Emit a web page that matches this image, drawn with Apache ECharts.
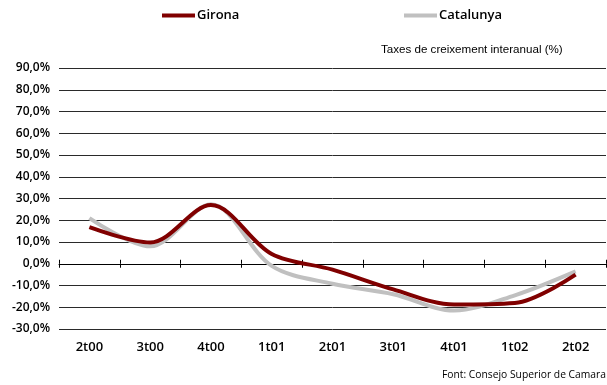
<!DOCTYPE html>
<html>
<head>
<meta charset="utf-8">
<script src="https://cdn.jsdelivr.net/npm/echarts@6/dist/echarts.min.js"></script>
<style>
  html, body { margin: 0; padding: 0; background: #fff; }
  #chart { width: 607px; height: 385px; }
</style>
</head>
<body>
<div id="chart"></div>
<script>
// Quarterly year-on-year growth rates (%)
const quarters = ['2t00', '3t00', '4t00', '1t01', '2t01', '3t01', '4t01', '1t02', '2t02'];
const girona = [16.8, 9.8, 27.0, 4.5, -2.7, -11.8, -18.7, -18.0, -5.0];
const catalunya = [21.0, 8.0, 27.3, -1.0, -9.2, -14.0, -21.5, -14.5, -3.5];

const yMin = -30, yMax = 90, yStep = 10;

const labelFont = { fontFamily: 'Open Sans', fontSize: 12, fontWeight: 600, color: '#000' };
const legendFont = { fontFamily: 'Open Sans', fontSize: 13, fontWeight: 600, color: '#000', padding: [0, 0, 0, -3] };

const chart = echarts.init(document.getElementById('chart'), null, { renderer: 'canvas' });

chart.setOption({
  animation: false,
  backgroundColor: '#fff',
  grid: { left: 59, right: 1, top: 68, bottom: 56, containLabel: false },
  legend: [
    {
      left: 162, top: 9, padding: 0,
      icon: 'rect', itemWidth: 33, itemHeight: 4,
      textStyle: legendFont, data: ['Girona']
    },
    {
      left: 404, top: 9, padding: 0,
      icon: 'rect', itemWidth: 33, itemHeight: 4,
      textStyle: legendFont, data: ['Catalunya']
    }
  ],
  xAxis: [
    {
      type: 'category', data: quarters, position: 'bottom', boundaryGap: true,
      axisLine: { show: false, onZero: false }, axisTick: { show: false },
      axisLabel: Object.assign({ margin: 12 }, labelFont, { fontSize: 13 })
    },
    {
      type: 'category', data: quarters, position: 'bottom', boundaryGap: true,
      axisLine: { show: true, onZero: true, onZeroAxisIndex: 0, lineStyle: { color: '#000', width: 1 } },
      axisTick: { show: true, length: 4, lineStyle: { color: '#000' } },
      axisLabel: { show: false }
    },
    {
      type: 'category', data: quarters, position: 'bottom', boundaryGap: true,
      axisLine: { show: false, onZero: true, onZeroAxisIndex: 0 },
      axisTick: { show: true, inside: true, length: 4, lineStyle: { color: '#000' } },
      axisLabel: { show: false }
    }
  ],
  yAxis: {
    type: 'value', min: yMin, max: yMax, interval: yStep,
    axisLine: { show: false }, axisTick: { show: false },
    axisLabel: Object.assign({ margin: 9, formatter: v => v.toFixed(1).replace('.', ',') + '%' }, labelFont),
    splitLine: { show: true, lineStyle: { color: '#2a2a2a', width: 1 } }
  },
  series: [
    {
      name: 'Catalunya', type: 'line', data: catalunya, xAxisIndex: 0,
      smooth: 0.33, showSymbol: false, symbol: 'none',
      lineStyle: { color: '#c0c0c0', width: 4 }, itemStyle: { color: '#c0c0c0' }
    },
    {
      name: 'Girona', type: 'line', data: girona, xAxisIndex: 0,
      smooth: 0.33, showSymbol: false, symbol: 'none',
      lineStyle: { color: '#800000', width: 4 }, itemStyle: { color: '#800000' }
    }
  ],
  graphic: [
    {
      type: 'text', left: 381, top: 44,
      style: { text: 'Taxes de creixement interanual (%)', fontFamily: 'Liberation Sans', fontSize: 11.6, fill: '#000' }
    },
    {
      type: 'text', right: 1, top: 370,
      style: { text: 'Font: Consejo Superior de Camara', fontFamily: 'Open Sans', fontSize: 10.3, fill: '#000' }
    }
  ]
});
</script>
</body>
</html>
